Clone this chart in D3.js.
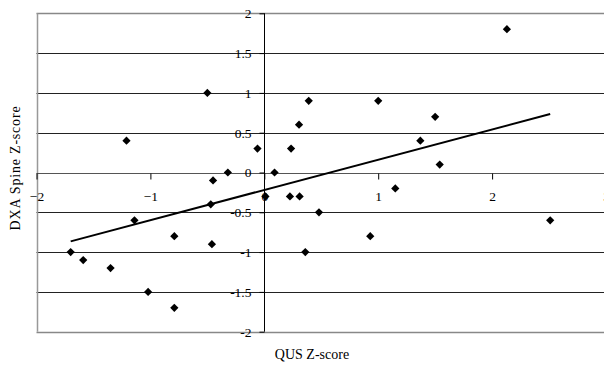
<!DOCTYPE html>
<html>
<head>
<meta charset="utf-8">
<script src="https://cdn.jsdelivr.net/npm/d3@7/dist/d3.min.js"></script>
<style>
	body { margin: 0; background: #fff; }
	text { font-family: "Liberation Serif", "Times New Roman", serif; font-size: 13px; fill: #000; }
</style>
</head>
<body>
<svg id="chart"></svg>
<script>
// QUS Z-score (x) vs DXA Spine Z-score (y)
var qus = [-1.7, -1.59, -1.35, -1.21, -1.14, -1.02, -0.79, -0.79, -0.5, -0.47, -0.46, -0.45, -0.32, -0.06, 0.01, 0.09,
	0.225, 0.235, 0.305, 0.31, 0.36, 0.39, 0.48, 0.93, 1.0, 1.15, 1.37, 1.5, 1.54, 2.13, 2.51];
var dxa = [-1.0, -1.1, -1.2, 0.4, -0.6, -1.5, -0.8, -1.7, 1.0, -0.4, -0.9, -0.1, 0.0, 0.3, -0.3, 0.0,
	-0.3, 0.3, 0.6, -0.3, -1.0, 0.9, -0.5, -0.8, 0.9, -0.2, 0.4, 0.7, 0.1, 1.8, -0.6];

// linear trend line end points
var trendX = [-1.7, 2.51];
var trendY = [-0.865, 0.735];

var xTicks = [-2, -1, 0, 1, 2, 3];
var yTicks = [-2, -1.5, -1, -0.5, 0, 0.5, 1, 1.5, 2];

var W = 604, H = 366;
var svg = d3.select("#chart").attr("width", W).attr("height", H);

var xScale = d3.scaleLinear().domain([-2, 3]).range([36.5, 606]);
var yScale = d3.scaleLinear().domain([-2, 2]).range([331.7, 13.3]);

//horizontal gridlines
svg.selectAll("line.grid")
	.data(yTicks.filter(function(d) { return d != 0 && Math.abs(d) != 2; }))
	.enter()
	.append("line")
	.attr("class", "grid")
	.attr("x1", xScale(-2)).attr("x2", W)
	.attr("y1", function(d) { return Math.round(yScale(d)) + 0.5; })
	.attr("y2", function(d) { return Math.round(yScale(d)) + 0.5; })
	.style("stroke", "#222")
	.style("stroke-width", "1px");

//plot border (top, bottom, left)
[2, -2].forEach(function(v) {
	svg.append("line")
		.attr("x1", xScale(-2)).attr("x2", W)
		.attr("y1", Math.round(yScale(v)) + 0.5).attr("y2", Math.round(yScale(v)) + 0.5)
		.style("stroke", "#888").style("stroke-width", "1.5px");
});
svg.append("line")
	.attr("x1", Math.round(xScale(-2)) + 0.5).attr("x2", Math.round(xScale(-2)) + 0.5)
	.attr("y1", yScale(2)).attr("y2", yScale(-2))
	.style("stroke", "#999").style("stroke-width", "1.5px");

//x axis through y = 0
var xAxis = svg.append("g")
	.attr("transform", "translate(0," + (Math.round(yScale(0)) + 0.5) + ")")
	.call(d3.axisBottom(xScale).tickValues(xTicks).tickSize(6).tickPadding(12).tickFormat(d3.format("d")));
xAxis.select(".domain").attr("d", "M" + xScale(-2) + ",0H" + W).style("stroke", "#555");
xAxis.selectAll("text").style("font-size", "13.5px").style("font-family", "Liberation Serif");

//y axis through x = 0
var yAxis = svg.append("g")
	.attr("transform", "translate(" + (Math.round(xScale(0)) + 0.5) + ",0)")
	.call(d3.axisLeft(yScale).tickValues(yTicks).tickSize(5).tickPadding(8).tickFormat(function(d) { return d; }));
yAxis.select(".domain").attr("d", "M0," + yScale(2) + "V" + yScale(-2)).style("stroke", "#000");
yAxis.selectAll("text").style("font-size", "13.5px").style("font-family", "Liberation Serif");

//trend line
svg.append("line")
	.attr("x1", xScale(trendX[0])).attr("y1", yScale(trendY[0]))
	.attr("x2", xScale(trendX[1])).attr("y2", yScale(trendY[1]))
	.style("stroke", "#000")
	.style("stroke-width", "2px");

//points as diamonds
var diamond = d3.symbol().type(d3.symbolSquare).size(34);
svg.selectAll("path.pt")
	.data(qus.map(function(d, i) { return {x: d, y: dxa[i]}; }))
	.enter()
	.append("path")
	.attr("class", "pt")
	.attr("d", diamond)
	.attr("transform", function(d) { return "translate(" + xScale(d.x) + "," + yScale(d.y) + ") rotate(45)"; })
	.style("fill", "#000");

//axis titles
svg.append("text")
	.attr("x", 312).attr("y", 359)
	.attr("text-anchor", "middle")
	.style("font-size", "14px")
	.text("QUS Z-score");

svg.append("text")
	.attr("transform", "translate(20,168) rotate(-90)")
	.attr("text-anchor", "middle")
	.style("font-size", "14px")
	.style("letter-spacing", "0.8px")
	.text("DXA Spine Z-score");
</script>
</body>
</html>
